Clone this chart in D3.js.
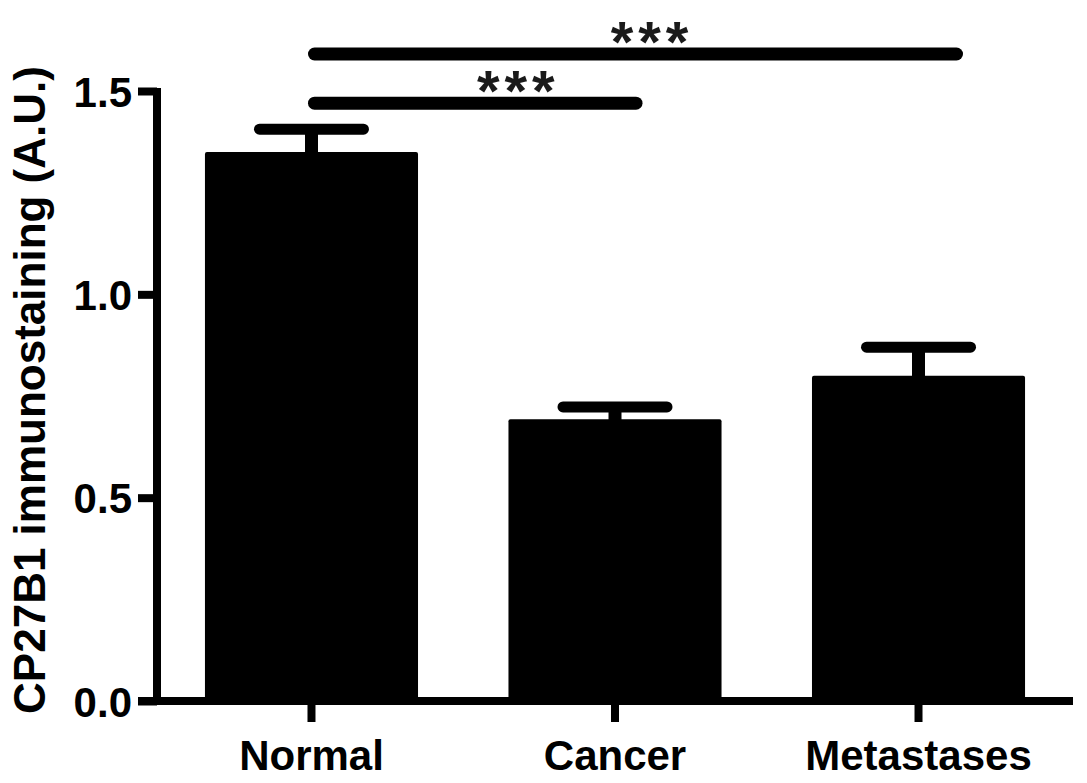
<!DOCTYPE html>
<html>
<head>
<meta charset="utf-8">
<style>
    body { margin: 0; background: #fff; }
    svg { display: block; font-family: 'Liberation Sans', Arial, sans-serif; font-weight: bold; }
</style>
</head>
<body>
<svg width="1087" height="783"></svg>
<script src="https://d3js.org/d3.v7.min.js"></script>
<script>
    // data
    const groups = ["Normal", "Cancer", "Metastases"];
    const means = [1.35, 0.693, 0.80];
    const errs = [0.056, 0.030, 0.070];
    const yTicks = [0.0, 0.5, 1.0, 1.5];
    const yTitle = "CP27B1 immunostaining (A.U.)";
    // significance brackets: from group, to group, level, label
    const sigFrom = ["Normal", "Normal"];
    const sigTo = ["Cancer", "Metastases"];
    const sigLevel = [1.47, 1.591];
    const sigLabel = ["***", "***"];

    const svg = d3.select("svg");

    let x = d3.scaleBand()
        .domain(groups)
        .range([157, 1073])
        .paddingInner(0.298)
        .paddingOuter(0.158);

    let y = d3.scaleLinear()
        .domain([0, 1.5])
        .range([701, 91]);

    // bars
    svg.append("g")
        .selectAll("rect")
        .data(groups)
        .join("rect")
        .attr("x", d => x(d))
        .attr("width", x.bandwidth())
        .attr("y", (d, i) => y(means[i]))
        .attr("height", (d, i) => y(0) - y(means[i]))
        .attr("rx", 2)
        .style("fill", "#000");

    // error bars (upper only)
    let eb = svg.append("g");
    eb.selectAll(".stem")
        .data(groups)
        .join("line")
        .attr("class", "stem")
        .attr("x1", d => x(d) + x.bandwidth() / 2)
        .attr("x2", d => x(d) + x.bandwidth() / 2)
        .attr("y1", (d, i) => y(means[i]) + 2)
        .attr("y2", (d, i) => y(means[i] + errs[i]))
        .style("stroke", "#000")
        .style("stroke-width", 13);
    eb.selectAll(".cap")
        .data(groups)
        .join("line")
        .attr("class", "cap")
        .attr("x1", d => x(d) + x.bandwidth() / 2 - 52)
        .attr("x2", d => x(d) + x.bandwidth() / 2 + 52)
        .attr("y1", (d, i) => y(means[i] + errs[i]))
        .attr("y2", (d, i) => y(means[i] + errs[i]))
        .style("stroke", "#000")
        .style("stroke-width", 11)
        .style("stroke-linecap", "round");

    // y axis
    let yAxis = svg.append("g")
        .attr("transform", "translate(157,0)")
        .call(d3.axisLeft(y).tickValues(yTicks).tickFormat(d3.format(".1f")).tickSize(19).tickSizeOuter(0).tickPadding(6));
    yAxis.select(".domain").attr("d", "M0," + (y(1.5) - 3) + "V" + (y(0) + 4));

    // x axis
    let xAxis = svg.append("g")
        .attr("transform", "translate(0,701)")
        .call(d3.axisBottom(x).tickSize(21).tickSizeOuter(0).tickPadding(18));
    xAxis.select(".domain").attr("d", "M138,0H1073");

    svg.selectAll(".domain, .tick line")
        .style("stroke", "#000")
        .style("stroke-width", 8);
    yAxis.selectAll(".tick line").attr("x1", 0);
    yAxis.selectAll(".tick text").style("font-size", "42px").style("font-family", "'Liberation Sans', Arial, sans-serif").style("font-weight", "bold").attr("dy", "0.36em");
    xAxis.selectAll(".tick text").style("font-size", "42px").style("font-family", "'Liberation Sans', Arial, sans-serif").style("font-weight", "bold").attr("dy", "0.71em");
    svg.selectAll(".tick text").style("fill", "#000");

    // y title
    svg.append("text")
        .attr("transform", "translate(45,390) rotate(-90)")
        .attr("text-anchor", "middle")
        .style("font-size", "44px")
        .text(yTitle);

    // significance lines
    let overhang = [21, 38];
    let starShift = [55, 37];
    let sig = svg.append("g");
    sig.selectAll("line")
        .data(sigLevel)
        .join("line")
        .attr("x1", (d, i) => x(sigFrom[i]) + x.bandwidth() / 2 + 3)
        .attr("x2", (d, i) => x(sigTo[i]) + x.bandwidth() / 2 + overhang[i])
        .attr("y1", d => y(d))
        .attr("y2", d => y(d))
        .style("stroke", "#000")
        .style("stroke-width", 13)
        .style("stroke-linecap", "round");
    sig.selectAll("text")
        .data(sigLevel)
        .join("text")
        .attr("x", (d, i) => (x(sigFrom[i]) + x(sigTo[i])) / 2 + x.bandwidth() / 2 + starShift[i])
        .attr("y", d => y(d) + 8)
        .attr("text-anchor", "middle")
        .style("font-size", "58px")
        .style("letter-spacing", "5px")
        .style("fill", "#1a1a1a")
        .text((d, i) => sigLabel[i]);
</script>
</body>
</html>
